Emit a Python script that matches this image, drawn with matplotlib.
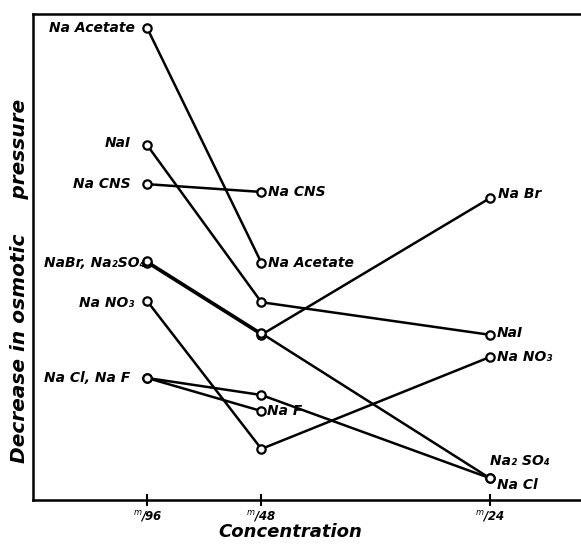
import matplotlib
matplotlib.use("Agg")
import matplotlib.pyplot as plt

plt.rcParams['font.family'] = ['DejaVu Sans']

# concentrations (molar): m/96, m/48, m/24
conc = [1 / 96, 1 / 48, 1 / 24]
tick_labels = ['$^{m}$/96', '$^{m}$/48', '$^{m}$/24']

# decrease in osmotic pressure (arbitrary units)
na_acetate = [9.71, 4.88]
na_i = [7.30, 4.07, 3.40]
na_cns = [6.50, 6.34]
na_br = [4.88, 3.40, 6.21]
na2_so4 = [4.91, 3.43, 0.45]
na_no3 = [4.09, 1.05, 2.94]
na_cl = [2.51, 2.16, 0.45]
na_f = [2.51, 1.83]

series = [na_acetate, na_i, na_cns, na_br, na2_so4, na_no3, na_cl, na_f]

fig = plt.figure(figsize=(5.81, 5.44), dpi=100)
ax = fig.add_axes([0.057, 0.081, 0.943, 0.893])

for ys in series:
    ax.plot(conc[:len(ys)], ys, color='black', lw=1.8, marker='o', ms=6,
            mfc='white', mec='black', mew=1.6, zorder=3)

lab = dict(fontsize=10, fontweight='bold', fontstyle='italic', va='center')

# labels at m/96
ax.annotate('Na Acetate', (conc[0], na_acetate[0]), xytext=(-9, 0), textcoords='offset points', ha='right', **lab)
ax.annotate('NaI', (conc[0], na_i[0]), xytext=(-12, 2), textcoords='offset points', ha='right', **lab)
ax.annotate('Na CNS', (conc[0], na_cns[0]), xytext=(-12, 0), textcoords='offset points', ha='right', **lab)
ax.annotate('NaBr, Na₂SO₄', (conc[0], na_br[0]), xytext=(-1, 0), textcoords='offset points', ha='right', **lab)
ax.annotate('Na NO₃', (conc[0], na_no3[0]), xytext=(-9, -1), textcoords='offset points', ha='right', **lab)
ax.annotate('Na Cl, Na F', (conc[0], na_cl[0]), xytext=(-12, 0), textcoords='offset points', ha='right', **lab)

# labels at m/48
ax.annotate('Na CNS', (conc[1], na_cns[1]), xytext=(5, 0), textcoords='offset points', ha='left', **lab)
ax.annotate('Na Acetate', (conc[1], na_acetate[1]), xytext=(5, 0), textcoords='offset points', ha='left', **lab)
ax.annotate('Na F', (conc[1], na_f[1]), xytext=(4, 0), textcoords='offset points', ha='left', **lab)

# labels at m/24
ax.annotate('Na Br', (conc[2], na_br[2]), xytext=(6, 3), textcoords='offset points', ha='left', **lab)
ax.annotate('NaI', (conc[2], na_i[2]), xytext=(5, 1), textcoords='offset points', ha='left', **lab)
ax.annotate('Na NO₃', (conc[2], na_no3[2]), xytext=(5, 0), textcoords='offset points', ha='left', **lab)
ax.annotate('Na₂ SO₄', (conc[2], na2_so4[2]), xytext=(0, 12), textcoords='offset points', ha='left', **lab)
ax.annotate('Na Cl', (conc[2], na_cl[2]), xytext=(5, -5), textcoords='offset points', ha='left', **lab)

ax.set_xlim(0, 0.05)
ax.set_ylim(0, 10)
ax.set_xticks(conc)
ax.set_xticklabels(tick_labels, fontsize=8.5, fontweight='bold', fontstyle='italic')
ax.set_yticks([])
ax.tick_params(axis='x', direction='inout', length=9, width=1.5, pad=2)

for s in ['left', 'bottom', 'top']:
    ax.spines[s].set_linewidth(1.8)
ax.spines['right'].set_visible(False)

ax.set_xlabel('Concentration', fontsize=13, fontweight='bold', fontstyle='italic')
ax.xaxis.set_label_coords(0.47, -0.048)
ax.set_ylabel('Decrease in osmotic     pressure', fontsize=14.5, fontweight='bold',
              fontstyle='italic')
ax.yaxis.set_label_coords(-0.008, 0.45)

fig.savefig('out.png', dpi=100)
